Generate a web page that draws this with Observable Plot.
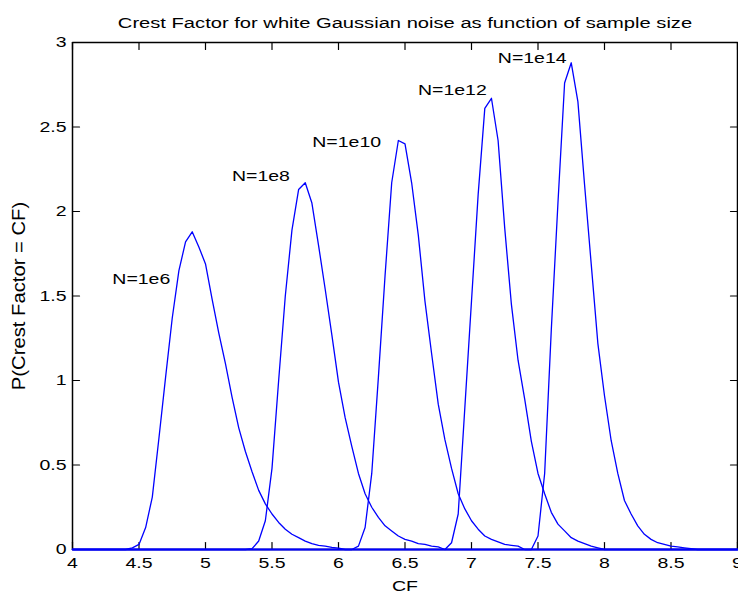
<!DOCTYPE html>
<html><head><meta charset="utf-8">
<script src="https://cdn.jsdelivr.net/npm/d3@7"></script>
<script src="https://cdn.jsdelivr.net/npm/@observablehq/plot@0.6"></script>
<style>
html,body{margin:0;padding:0;background:#fff;overflow:hidden;}
#chart svg{display:block;}
</style></head><body><div id="chart"></div>
<script>
const title = "Crest Factor for white Gaussian noise as function of sample size";
const xLabel = "CF";
const yLabel = "P(Crest Factor = CF)";
const xDomain = [4, 9];
const yDomain = [0, 3];
const xTicks = [4, 4.5, 5, 5.5, 6, 6.5, 7, 7.5, 8, 8.5, 9];
const yTicks = [0, 0.5, 1, 1.5, 2, 2.5, 3];
const xTickLabels = ["4", "4.5", "5", "5.5", "6", "6.5", "7", "7.5", "8", "8.5", "9"];
const yTickLabels = ["0", "0.5", "1", "1.5", "2", "2.5", "3"];

const seriesNames = ["N=1e6", "N=1e8", "N=1e10", "N=1e12", "N=1e14"];

const cf1e6 = [4, 4.40, 4.45, 4.50, 4.55, 4.60, 4.65, 4.70, 4.75, 4.80, 4.85, 4.90, 4.95, 5.00, 5.05, 5.10, 5.15, 5.20, 5.25, 5.30, 5.35, 5.40, 5.45, 5.50, 5.55, 5.60, 5.65, 5.70, 5.75, 5.80, 5.85, 5.90, 5.95, 6.00, 6.05, 9];
const p1e6  = [0, 0, 0.01, 0.03, 0.13, 0.31, 0.66, 1.02, 1.37, 1.65, 1.82, 1.88, 1.79, 1.69, 1.48, 1.28, 1.10, 0.90, 0.72, 0.58, 0.46, 0.35, 0.27, 0.21, 0.16, 0.12, 0.09, 0.07, 0.05, 0.035, 0.025, 0.02, 0.012, 0.008, 0, 0];

const cf1e8 = [4, 5.30, 5.35, 5.40, 5.45, 5.50, 5.55, 5.60, 5.65, 5.70, 5.75, 5.80, 5.85, 5.90, 5.95, 6.00, 6.05, 6.10, 6.15, 6.20, 6.25, 6.30, 6.35, 6.40, 6.45, 6.50, 6.55, 6.60, 6.65, 6.70, 6.75, 6.80, 9];
const p1e8  = [0, 0, 0.005, 0.05, 0.17, 0.48, 1.00, 1.50, 1.89, 2.13, 2.17, 2.05, 1.80, 1.54, 1.27, 0.99, 0.78, 0.61, 0.45, 0.33, 0.25, 0.19, 0.14, 0.11, 0.08, 0.06, 0.05, 0.035, 0.03, 0.02, 0.015, 0, 0];

const cf1e10 = [4, 6.10, 6.15, 6.20, 6.25, 6.30, 6.35, 6.40, 6.45, 6.50, 6.55, 6.60, 6.65, 6.70, 6.75, 6.80, 6.85, 6.90, 6.95, 7.00, 7.05, 7.10, 7.15, 7.20, 7.25, 7.30, 7.35, 7.40, 9];
const p1e10  = [0, 0, 0.02, 0.13, 0.45, 1.02, 1.62, 2.17, 2.42, 2.40, 2.17, 1.86, 1.47, 1.16, 0.86, 0.65, 0.48, 0.33, 0.24, 0.17, 0.12, 0.08, 0.06, 0.045, 0.03, 0.025, 0.02, 0, 0];

const cf1e12 = [4, 6.80, 6.85, 6.90, 6.95, 7.00, 7.05, 7.10, 7.15, 7.20, 7.25, 7.30, 7.35, 7.40, 7.45, 7.50, 7.55, 7.60, 7.65, 7.70, 7.75, 7.80, 7.85, 7.90, 7.95, 8.00, 9];
const p1e12  = [0, 0, 0.04, 0.21, 0.84, 1.47, 2.10, 2.61, 2.67, 2.42, 1.90, 1.45, 1.12, 0.89, 0.64, 0.45, 0.33, 0.22, 0.15, 0.11, 0.07, 0.05, 0.035, 0.02, 0.01, 0, 0];

const cf1e14 = [4, 7.45, 7.50, 7.55, 7.60, 7.65, 7.70, 7.75, 7.80, 7.85, 7.90, 7.95, 8.00, 8.05, 8.10, 8.15, 8.20, 8.25, 8.30, 8.35, 8.40, 8.45, 8.50, 8.55, 8.60, 8.65, 8.70, 9];
const p1e14  = [0, 0, 0.08, 0.45, 1.30, 2.05, 2.76, 2.88, 2.65, 2.16, 1.69, 1.22, 0.91, 0.645, 0.45, 0.29, 0.21, 0.14, 0.09, 0.06, 0.04, 0.03, 0.02, 0.015, 0.01, 0.005, 0, 0];

// annotation anchors (right end of each label, in data units)
const labelCF = [4.735, 5.635, 6.32, 7.115, 7.715];
const labelP  = [1.60, 2.21, 2.41, 2.72, 2.905];

const cfSeries = [cf1e6, cf1e8, cf1e10, cf1e12, cf1e14];
const pSeries  = [p1e6, p1e8, p1e10, p1e12, p1e14];

const rows = [];
seriesNames.forEach((n, k) => cfSeries[k].forEach((c, i) => rows.push({n, cf: c, p: pSeries[k][i]})));
const labels = seriesNames.map((n, k) => ({n, cf: labelCF[k], p: labelP[k]}));
const xTickRows = xTicks.map((v, i) => ({v, t: xTickLabels[i]}));
const yTickRows = yTicks.map((v, i) => ({v, t: yTickLabels[i]}));
// axes box, traced along the domain bounds
const box = [
  {cf: xDomain[0], p: yDomain[0]}, {cf: xDomain[1], p: yDomain[0]},
  {cf: xDomain[1], p: yDomain[1]}, {cf: xDomain[0], p: yDomain[1]},
  {cf: xDomain[0], p: yDomain[0]}
];

const W = 738, H = 598;
const mL = 72, mR = 1, mT = 42, mB = 49;
const TL = 7;
const FS = 15;
const tickShape = {draw(context, l) { context.moveTo(0, 0); context.lineTo(0, -l); }};
const tickStyle = {length: TL, anchor: "start", shape: tickShape, stroke: "#000", strokeWidth: 1.2};

const chart = Plot.plot({
  width: W, height: H,
  marginLeft: mL, marginRight: mR, marginTop: mT, marginBottom: mB,
  style: {fontFamily: "'Liberation Sans', Arial, Helvetica, sans-serif", fontSize: FS + "px"},
  x: {domain: xDomain, axis: null},
  y: {domain: yDomain, axis: null},
  marks: [
    Plot.line(box, {x: "cf", y: "p", stroke: "#000", strokeWidth: 1.5, curve: "linear"}),
    Plot.vector(xTicks, {x: d => d, frameAnchor: "bottom", rotate: 0, ...tickStyle}),
    Plot.vector(xTicks, {x: d => d, frameAnchor: "top", rotate: 180, ...tickStyle}),
    Plot.vector(yTicks, {y: d => d, frameAnchor: "left", rotate: 90, ...tickStyle}),
    Plot.vector(yTicks, {y: d => d, frameAnchor: "right", rotate: -90, ...tickStyle}),
    Plot.text(xTickRows, {x: "v", text: "t", frameAnchor: "bottom", dy: 18.5, textAnchor: "middle", fill: "#000"}),
    Plot.text(yTickRows, {y: "v", text: "t", frameAnchor: "left", dx: -6, textAnchor: "end", fill: "#000"}),
    Plot.text(labels, {x: "cf", y: "p", text: "n", textAnchor: "end", fill: "#000"}),
    Plot.text([title], {frameAnchor: "top", textAnchor: "middle", dy: -26, fontSize: 15.5, fill: "#000"}),
    Plot.text([xLabel], {frameAnchor: "bottom", textAnchor: "middle", dy: 41, fill: "#000"}),
    Plot.text([yLabel], {frameAnchor: "left", textAnchor: "middle", rotate: -90, dx: -53, fill: "#000"}),
    Plot.line(rows, {x: "cf", y: "p", z: "n", stroke: "#0000ff", strokeWidth: 1.3, curve: "linear"})
  ]
});

const SX = 1.3;
chart.querySelectorAll("text").forEach(t => {
  const tr = t.getAttribute("transform") || "";
  const x = +t.getAttribute("x") || 0, y = +t.getAttribute("y") || 0;
  const sc = /rotate/.test(tr) ? `scale(1.35,1.2)` : `scale(${SX},1)`;
  t.setAttribute("transform", `${tr} translate(${x},${y}) ${sc} translate(${-x},${-y})`);
});
document.getElementById("chart").appendChild(chart);
</script>
</body></html>
